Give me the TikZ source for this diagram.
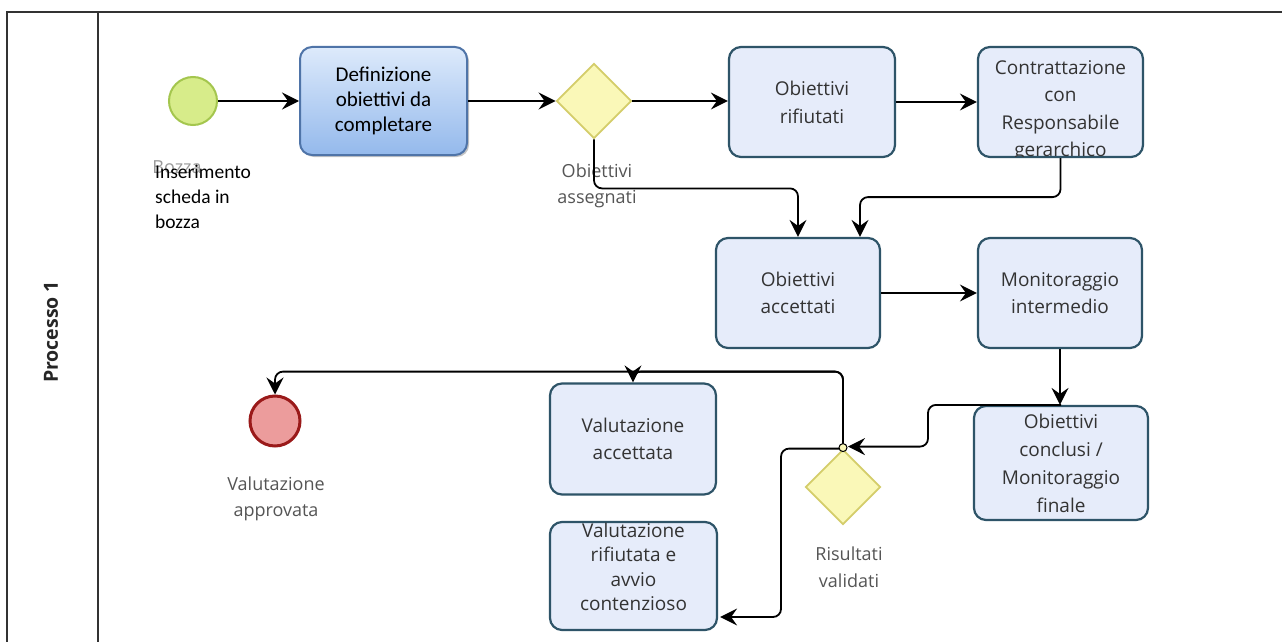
\documentclass[tikz,border=0pt]{standalone}
\usepackage{fontspec}
\setmainfont{Open Sans}
\newfontfamily\calfont{Carlito}
\usetikzlibrary{arrows.meta,shapes.geometric,calc,shadows}
\definecolor{taskfill}{HTML}{E6ECFA}
\definecolor{taskdraw}{HTML}{2E5468}
\definecolor{tasktext}{HTML}{333333}
\definecolor{labeltext}{HTML}{555555}
\definecolor{gwfill}{HTML}{FAF8B8}
\definecolor{gwdraw}{HTML}{D4CD6A}
\definecolor{startfill}{HTML}{D7EC8A}
\definecolor{startdraw}{HTML}{A4C64E}
\definecolor{endfill}{HTML}{EC9C9C}
\definecolor{enddraw}{HTML}{9A1A1A}
\definecolor{deftop}{HTML}{DDEAFB}
\definecolor{defbot}{HTML}{94B9EC}
\definecolor{defdraw}{HTML}{4F74A8}
\definecolor{framecol}{HTML}{333333}
\begin{document}
\begin{tikzpicture}[x=1pt,y=-1pt,
  task/.style={draw=taskdraw, line width=2.2pt, rounded corners=12pt, fill=taskfill,
    align=center, text=tasktext, inner sep=0pt, font=\fontsize{19}{28}\selectfont},
  tasktxt/.style={align=center, text=tasktext, inner sep=0pt},
  lbl/.style={align=center, text=labeltext, inner sep=0pt, font=\fontsize{18}{26.5}\selectfont},
  gateway/.style={diamond, aspect=1, draw=gwdraw, fill=gwfill, line width=1.8pt,
    minimum width=75pt, minimum height=75pt, inner sep=0pt},
  flow/.style={line width=1.8pt, black, rounded corners=8pt,
    -{Stealth[length=17pt,width=17pt,inset=6pt]}}
]
\useasboundingbox[fill=white] (0,0) rectangle (1282,642);
% pool frame
\draw[framecol, line width=2pt] (7,642) -- (7,12) -- (1282,12);
\draw[framecol, line width=2pt] (98,12) -- (98,642);
\node[rotate=90, font=\bfseries\fontsize{19.5}{22}\selectfont, text=black!85] (pool) at (51,332) {Processo 1};

% events and gateways
\node[circle, draw=startdraw, fill=startfill, line width=2pt, minimum size=48pt, inner sep=0pt] (start) at (193,101) {};
\node[text=black!40, inner sep=0pt, font=\fontsize{18}{20}\selectfont] (bozza) at (177,167) {Bozza};
\node[anchor=west, align=left, inner sep=0pt, font=\calfont\fontsize{19.5}{25}\selectfont] (ins) at (155,197) {Inserimento\\scheda in\\bozza};

\node[draw=defdraw, line width=2pt, top color=deftop, bottom color=defbot, rounded corners=12pt,
  minimum width=167pt, minimum height=108pt, inner sep=0pt, align=center,
  drop shadow={shadow xshift=2pt, shadow yshift=-2pt, opacity=0.45},
  font=\calfont\fontsize{21}{25}\selectfont] (def) at (383.5,101) {Definizione\\obiettivi da\\completare};

\node[gateway] (gw1) at (594,101) {};
\node[lbl] (gw1lbl) at (597,186) {Obiettivi\\assegnati};

\node[task, minimum width=166pt, minimum height=110pt] (rif) at (812,102) {Obiettivi\\rifiutati};
\node[task, minimum width=165pt, minimum height=110pt] (contr) at (1060.5,102) {};
\begin{scope}
  \clip[rounded corners=11pt] ($(contr.north west)+(1.2,1.2)$) rectangle ($(contr.south east)+(-1.2,-1.2)$);
  \node[tasktxt, font=\fontsize{19}{27.5}\selectfont] (contrtxt) at (1060.5,111) {Contrattazione\\con\\Responsabile\\gerarchico};
\end{scope}

\node[task, minimum width=164pt, minimum height=110pt, font=\fontsize{19}{27}\selectfont] (acc) at (798,293) {Obiettivi\\accettati};
\node[task, minimum width=164pt, minimum height=110pt, font=\fontsize{19}{27}\selectfont] (mon) at (1060,293) {Monitoraggio\\intermedio};
\node[task, minimum width=174pt, minimum height=114pt] (concl) at (1061,463) {Obiettivi\\conclusi /\\Monitoraggio\\finale};

\node[gateway] (gw2) at (843,487) {};
\node[lbl] (gw2lbl) at (849,567) {Risultati\\validati};

\node[task, minimum width=166pt, minimum height=111pt, font=\fontsize{19}{27}\selectfont] (valacc) at (633,439) {Valutazione\\accettata};
\node[task, minimum width=167pt, minimum height=108pt] (valrif) at (633.5,576) {};
\begin{scope}
  \clip[rounded corners=11pt] ($(valrif.north west)+(1.2,1.2)$) rectangle ($(valrif.south east)+(-1.2,-1.2)$);
  \node[tasktxt, font=\fontsize{19}{24.5}\selectfont] (valriftxt) at (633.5,567) {Valutazione\\rifiutata e\\avvio\\contenzioso};
\end{scope}

\node[circle, draw=enddraw, fill=endfill, line width=3pt, minimum size=50pt, inner sep=0pt] (end) at (275,421) {};
\node[lbl] (endlbl) at (276,499) {Valutazione\\approvata};

% flows
\draw[flow] (start.east) -- (def.west |- start.east);
\draw[flow] (def.east) -- (gw1.west);
\draw[flow] (gw1.east) -- (rif.west |- gw1.east);
\draw[flow] (rif.east) -- (contr.west);
\draw[flow] (gw1.south) -- ++(0,49) -| (acc.north);
\draw[flow] (contr.south) -- ++(0,39) -| ($(acc.north)+(62,0)$);
\draw[flow] (acc.east) -- (mon.west);
\draw[flow] (mon.south) -- (mon.south |- concl.north);
\draw[flow] (concl.north) -- ++(-133,0) |- ($(gw2.north)+(5,-2)$);
\draw[flow] (gw2.north) -- ++(0,-77) -| (valacc.north);
\draw[flow] (gw2.north) -- ++(0,-77) -| (end.north);
\draw[flow] (gw2.north) -- ++(-62,0) |- ($(valrif.east)+(2,41)$);
\node[circle, draw=black, fill=gwfill, line width=1pt, minimum size=8pt, inner sep=0pt] (jump) at ($(gw2.north)+(0,-1)$) {};
\end{tikzpicture}
\end{document}
